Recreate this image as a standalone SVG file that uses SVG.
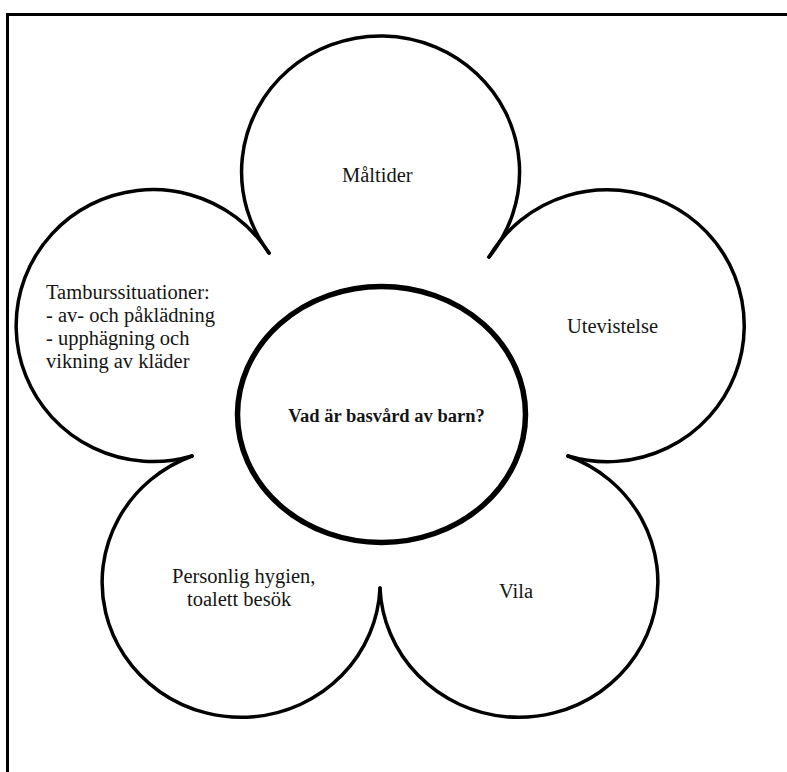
<svg xmlns="http://www.w3.org/2000/svg" width="787" height="772" viewBox="0 0 787 772">
<style>
.petal{fill:none;stroke:#000;stroke-width:3.5;stroke-linecap:round;stroke-linejoin:round}
.frame{fill:none;stroke:#000;stroke-width:3}
.lbl{font-family:"Liberation Serif","Times New Roman",serif;font-size:20.5px;fill:#151515}
.hub{fill:none;stroke:#000;stroke-width:5.5}
.q{font-family:"Liberation Serif","Times New Roman",serif;font-size:18.5px;font-weight:bold;fill:#151515}
</style>
<rect width="787" height="772" fill="#fff"/>
<path class="frame" d="M7.5,780 V14.5 H790"/>
<g id="petal-maltider">
<path class="petal" d="M269,253 A139,136 0 1 1 489,257"/>
<text class="lbl" x="342" y="182">Måltider</text>
</g>
<g id="petal-utevistelse">
<path class="petal" d="M489,257 A137,136 0 1 1 568,456"/>
<text class="lbl" x="567" y="333">Utevistelse</text>
</g>
<g id="petal-vila">
<path class="petal" d="M568,456 A139,135 0 1 1 380,588"/>
<text class="lbl" x="499" y="598">Vila</text>
</g>
<g id="petal-hygien">
<path class="petal" d="M380,588 A139,135 0 1 1 192,456"/>
<text class="lbl" x="172" y="583">Personlig hygien,</text>
<text class="lbl" x="187" y="606">toalett besök</text>
</g>
<g id="petal-tambur">
<path class="petal" d="M192,456 A137,136 0 1 1 269,253"/>
<text class="lbl" x="46" y="299">Tamburssituationer:</text>
<text class="lbl" x="46" y="322">- av- och påklädning</text>
<text class="lbl" x="46" y="345">- upphägning och</text>
<text class="lbl" x="46" y="368">vikning av kläder</text>
</g>
<g id="center">
<ellipse class="hub" cx="381.5" cy="414.5" rx="144" ry="128"/>
<text class="q" x="386.5" y="422" text-anchor="middle">Vad är basvård av barn?</text>
</g>
</svg>
